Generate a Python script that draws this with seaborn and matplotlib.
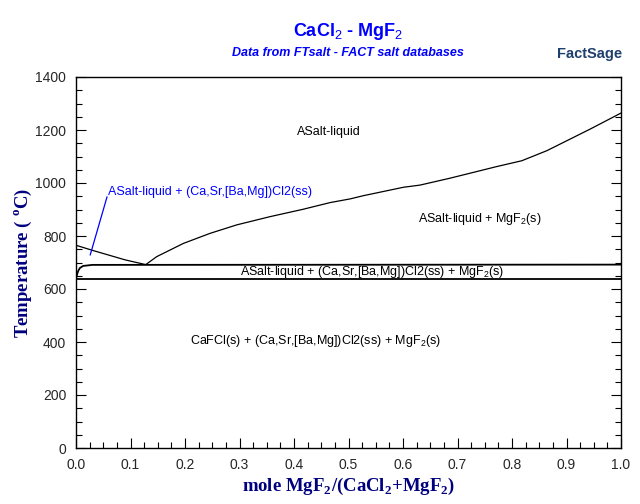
import seaborn as sns
import matplotlib.pyplot as plt
import pandas as pd
import numpy as np
from matplotlib.ticker import MultipleLocator

# phase boundaries
liq_left_x = [0.0, 0.03, 0.06, 0.09, 0.128]
liq_left_t = [765, 746, 728, 710, 692]

liq_right_x = [0.128, 0.148, 0.197, 0.246, 0.295, 0.356, 0.417, 0.466, 0.503,
               0.527, 0.601, 0.631, 0.686, 0.772, 0.818, 0.864, 0.943, 1.0]
liq_right_t = [692, 722, 772, 810, 842, 873, 901, 926, 940,
               952, 984, 992, 1018, 1062, 1084, 1122, 1203, 1264]

solvus_x = [0.0, 0.002, 0.004, 0.007, 0.013, 0.03, 1.0]
solvus_t = [638, 655, 668, 679, 687, 691, 692]

eutectoid_x = [0.0, 1.0]
eutectoid_t = [638, 638]

pointer_x = [0.026, 0.057]
pointer_t = [728, 948]

labels = [
    ("ASalt-liquid", 0.464, 1192),
    ("ASalt-liquid + MgF$_2$(s)", 0.741, 864),
    ("ASalt-liquid + (Ca,Sr,[Ba,Mg])Cl2(ss) + MgF$_2$(s)", 0.543, 664),
    ("CaFCl(s) + (Ca,Sr,[Ba,Mg])Cl2(ss) + MgF$_2$(s)", 0.44, 404),
]

sns.set_style("ticks")
plt.rcParams['font.family'] = ['Liberation Sans', 'DejaVu Sans']
plt.rcParams['mathtext.fontset'] = 'custom'
plt.rcParams['mathtext.rm'] = 'Liberation Sans'
plt.rcParams['mathtext.bf'] = 'Liberation Serif:bold'

fig = plt.figure(figsize=(6.4, 5.04), dpi=100)
ax = fig.add_axes([76 / 640, 56 / 504, 545 / 640, 371 / 504])

sns.lineplot(x=liq_left_x, y=liq_left_t, ax=ax, color='black', lw=0.9, sort=False)
sns.lineplot(x=liq_right_x, y=liq_right_t, ax=ax, color='black', lw=0.9, sort=False)
sns.lineplot(x=solvus_x, y=solvus_t, ax=ax, color='black', lw=1.3, sort=False)
sns.lineplot(x=eutectoid_x, y=eutectoid_t, ax=ax, color='black', lw=1.3, sort=False)
sns.lineplot(x=pointer_x, y=pointer_t, ax=ax, color='#0000ff', lw=0.9, sort=False)

for txt, x, t in labels:
    ax.text(x, t, txt, ha='center', va='center', fontsize=9, color='black')
ax.text(0.059, 966, "ASalt-liquid + (Ca,Sr,[Ba,Mg])Cl2(ss)", ha='left', va='center',
        fontsize=9, color='#0000ff')

ax.set_xlim(0, 1)
ax.set_ylim(0, 1400)
ax.xaxis.set_major_locator(MultipleLocator(0.1))
ax.xaxis.set_minor_locator(MultipleLocator(0.025))
ax.yaxis.set_major_locator(MultipleLocator(200))
ax.yaxis.set_minor_locator(MultipleLocator(50))
ax.xaxis.set_major_formatter(lambda v, p: f"{v:.1f}")
ax.tick_params(which='both', direction='in', right=True, top=False, labelsize=10,
               width=0.8, color='black', pad=7)
ax.tick_params(which='major', length=7)
ax.tick_params(which='minor', length=4)
for s in ax.spines.values():
    s.set_linewidth(1.0)
    s.set_color('black')

navy = '#00007f'
ax.set_xlabel("mole MgF$_\\mathbf{2}$/(CaCl$_\\mathbf{2}$+MgF$_\\mathbf{2}$)",
              family='Liberation Serif', fontweight='bold', fontsize=13.5,
              color=navy, labelpad=3)
ax.set_ylabel("Temperature ( $^\\mathbf{o}$C)", family='Liberation Serif',
              fontweight='bold', fontsize=13.5, color=navy, va='center')
ax.yaxis.set_label_coords(-0.097, 0.5)

fig.text(348 / 640, 1 - 31 / 504, "CaCl$_2$ - MgF$_2$", ha='center', va='center',
         fontsize=13, fontweight='bold', color='#0000ff')
fig.text(348 / 640, 1 - 53 / 504, "Data from FTsalt - FACT salt databases", ha='center',
         va='center', fontsize=9, fontweight='bold', fontstyle='italic', color='#0000ff')

# FactSage logo
fig.text(590 / 640, 1 - 54 / 504, "FactSage", ha='center', va='center', fontsize=10.5,
         fontweight='bold', color='#1f3f6f')

fig.savefig('out.png', dpi=100)
